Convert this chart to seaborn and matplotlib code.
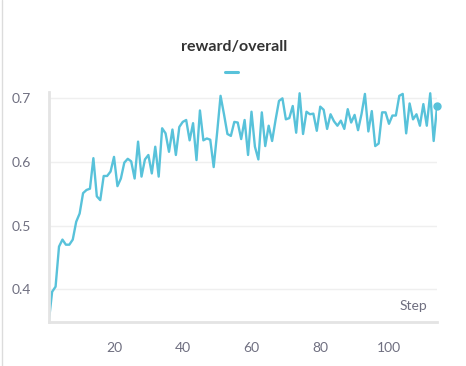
import numpy as np
import pandas as pd
import matplotlib
matplotlib.use("Agg")
import matplotlib.pyplot as plt
from matplotlib.lines import Line2D
import seaborn as sns

# reward/overall per step
steps = list(range(1, 115))
reward = [
    0.348, 0.396, 0.404, 0.467, 0.478, 0.470, 0.470, 0.478, 0.506, 0.519,
    0.551, 0.556, 0.558, 0.606, 0.546, 0.540, 0.578, 0.578, 0.585, 0.608,
    0.562, 0.574, 0.599, 0.605, 0.601, 0.574, 0.632, 0.577, 0.604, 0.611,
    0.582, 0.624, 0.577, 0.653, 0.645, 0.616, 0.651, 0.611, 0.655, 0.663,
    0.666, 0.634, 0.661, 0.603, 0.681, 0.634, 0.637, 0.635, 0.592, 0.646,
    0.704, 0.675, 0.644, 0.641, 0.663, 0.662, 0.636, 0.666, 0.611, 0.679,
    0.624, 0.604, 0.678, 0.625, 0.657, 0.633, 0.666, 0.696, 0.700, 0.667,
    0.669, 0.688, 0.646, 0.708, 0.644, 0.679, 0.675, 0.676, 0.649, 0.687,
    0.682, 0.652, 0.675, 0.664, 0.657, 0.665, 0.652, 0.683, 0.662, 0.674,
    0.650, 0.675, 0.707, 0.648, 0.680, 0.625, 0.629, 0.678, 0.678, 0.660,
    0.673, 0.673, 0.704, 0.707, 0.645, 0.692, 0.667, 0.675, 0.657, 0.691,
    0.657, 0.708, 0.633, 0.688,
]
x_ticks = [20, 40, 60, 80, 100]
y_ticks = [0.4, 0.5, 0.6, 0.7]

LINE = "#58c2da"
TEXT = "#6f6f80"
AXIS = "#e4e4e4"

sns.set_theme(style="white")
plt.rcParams["font.family"] = ["Lato", "DejaVu Sans"]

df = pd.DataFrame({"Step": steps, "reward": reward})

fig = plt.figure(figsize=(4.66, 3.66), dpi=100)
ax = fig.add_axes([48.7 / 466, 1 - 322.3 / 366, (437.1 - 48.7) / 466, (322.3 - 92) / 366])

sns.lineplot(data=df, x="Step", y="reward", ax=ax, color=LINE, linewidth=1.7)
ax.plot(steps[-1], reward[-1], "o", color=LINE, markersize=5, clip_on=False)

ax.set_xlim(1, 114)
ax.set_ylim(0.348, 0.710)
ax.set_xticks(x_ticks)
ax.set_yticks(y_ticks)
ax.set_yticklabels([f"{v:.1f}" for v in y_ticks])
ax.set_xlabel("")
ax.set_ylabel("")

ax.yaxis.grid(True, color="#efefef", linewidth=1)
ax.xaxis.grid(False)

for side in ["top", "right"]:
    ax.spines[side].set_visible(False)
for side in ["left", "bottom"]:
    ax.spines[side].set_color(AXIS)
    ax.spines[side].set_linewidth(2)

ax.tick_params(axis="both", direction="inout", length=10, width=1.6,
               color=AXIS, labelcolor=TEXT, labelsize=10)
ax.tick_params(axis="x", pad=9)
ax.tick_params(axis="y", pad=8)

ax.text(0.976, 0.045, "Step", transform=ax.transAxes, ha="right", va="bottom",
        color=TEXT, fontsize=10)

fig.text(234.5 / 466, 1 - 47 / 366, "reward/overall", ha="center", va="center",
         fontsize=11.5, fontweight="bold", color="#333333")
fig.add_artist(Line2D([225 / 466, 238 / 466], [1 - 72 / 366, 1 - 72 / 366],
                      color=LINE, linewidth=2.2, transform=fig.transFigure))
fig.add_artist(Line2D([2 / 466, 2 / 466], [0, 1], color="#dcdcdc",
                      linewidth=1, transform=fig.transFigure))

fig.savefig("out.png", dpi=100)
